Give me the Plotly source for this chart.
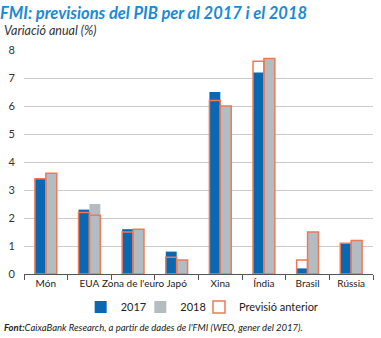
import plotly.graph_objects as go

categories = ["Món", "EUA", "Zona de l'euro", "Japó", "Xina", "Índia", "Brasil", "Rússia"]
gdp_2017 = [3.4, 2.3, 1.6, 0.8, 6.5, 7.2, 0.2, 1.1]
gdp_2018 = [3.6, 2.5, 1.6, 0.5, 6.0, 7.7, 1.5, 1.2]
prev_2017 = [3.4, 2.2, 1.5, 0.6, 6.2, 7.6, 0.5, 1.1]
prev_2018 = [3.6, 2.1, 1.6, 0.5, 6.0, 7.7, 1.5, 1.2]
y_ticks = [0, 1, 2, 3, 4, 5, 6, 7, 8]

BLUE = "#0a68b2"
GRAY = "#b3bcc1"
ORANGE = "#ee7a55"
FONT = "Lato"

PW = 351  # plot width in px
W = 0.25
fig = go.Figure()
fig.add_trace(go.Bar(x=categories, y=gdp_2017, name="2017", width=W, offset=-W,
                     marker=dict(color=BLUE, line=dict(width=0)), legend="legend"))
fig.add_trace(go.Bar(x=categories, y=gdp_2018, name="2018", width=W, offset=0,
                     marker=dict(color=GRAY, line=dict(width=0)), legend="legend2"))
fig.add_trace(go.Bar(x=categories, y=prev_2017, name="Previsió anterior", width=W, offset=-W,
                     marker=dict(color="rgba(0,0,0,0)", line=dict(color=ORANGE, width=1.5)),
                     legend="legend3"))
fig.add_trace(go.Bar(x=categories, y=prev_2018, name="Previsió anterior", width=W, offset=0,
                     marker=dict(color="rgba(0,0,0,0)", line=dict(color=ORANGE, width=1.5)),
                     showlegend=False, legend="legend3"))

leg_common = dict(orientation="h", yanchor="middle", y=-33 / 224, xanchor="left",
                  font=dict(family=FONT, size=11, color="#222"), bgcolor="rgba(0,0,0,0)",
                  borderwidth=0, itemwidth=30)

fig.update_layout(
    width=381, height=338,
    margin=dict(l=22, r=8, t=50, b=64),
    barmode="overlay",
    showlegend=True,
    plot_bgcolor="white", paper_bgcolor="white",
    font=dict(family=FONT, size=11, color="#333"),
    xaxis=dict(showline=True, linecolor="#555", linewidth=1, ticks="outside",
               tickson="boundaries", ticklen=5, tickcolor="#555", showgrid=False,
               tickangle=0,
               tickfont=dict(family=FONT, size=10, color="#222")),
    yaxis=dict(range=[0, 8], tickvals=y_ticks, showgrid=True, gridcolor="#cccccc",
               gridwidth=1, zeroline=False, ticks="outside", ticklen=6, tickcolor="rgba(0,0,0,0)",
               tickfont=dict(family=FONT, size=11, color="#333")),
    legend=dict(x=(79 - 22) / PW, **leg_common),
    legend2=dict(x=(139 - 22) / PW, **leg_common),
    legend3=dict(x=(198 - 22) / PW, **leg_common),
    annotations=[
        dict(text="<b><i>FMI: previsions del PIB per al 2017 i el 2018</i></b>", xref="paper",
             yref="paper", x=-26 / PW, y=1, yshift=50 - 13, xanchor="left",
             yanchor="middle", showarrow=False,
             font=dict(family=FONT, size=16.5, color="#1a8ad4")),
        dict(text="<i>Variació anual (%)</i>", xref="paper", yref="paper", x=-22 / PW,
             y=1, xanchor="left", yanchor="middle", yshift=50 - 30, showarrow=False,
             font=dict(family=FONT, size=12.5, color="#333")),
        dict(text="<b><i>Font:</i></b><i>CaixaBank Research, a partir de dades de l'FMI (WEO, gener del 2017).</i>",
             xref="paper", yref="paper", x=-22 / PW, y=0, xanchor="left", yanchor="middle",
             yshift=-(327 - 274), showarrow=False,
             font=dict(family=FONT, size=9.5, color="#222")),
    ],
)

fig.write_html("out.html")
